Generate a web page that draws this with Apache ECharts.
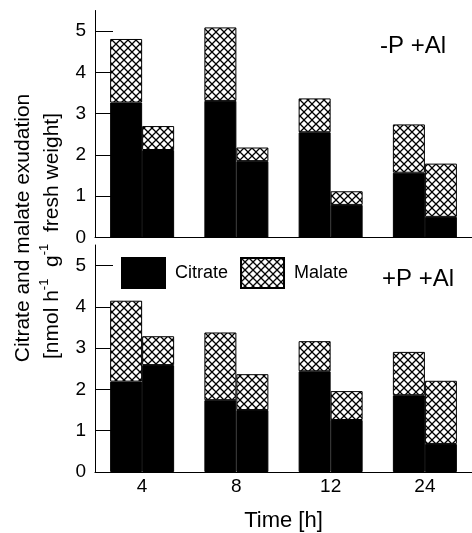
<!DOCTYPE html>
<html>
<head>
<meta charset="utf-8">
<script src="https://cdn.jsdelivr.net/npm/echarts@6/dist/echarts.min.js"></script>
<style>
html,body{margin:0;padding:0;background:#fff;}
#chart{width:472px;height:533px;}
</style>
</head>
<body>
<div id="chart"></div>
<script>
// ---- data ----
var categories = ['4', '8', '12', '24'];
var yTicks = [0, 1, 2, 3, 4, 5];
// top panel (-P +Al)
var topCitrate1 = [3.27, 3.31, 2.55, 1.57];
var topMalate1  = [1.54, 1.78, 0.82, 1.17];
var topCitrate2 = [2.12, 1.85, 0.79, 0.50];
var topMalate2  = [0.58, 0.33, 0.33, 1.29];
// bottom panel (+P +Al)
var botCitrate1 = [2.19, 1.74, 2.44, 1.86];
var botMalate1  = [1.96, 1.64, 0.73, 1.05];
var botCitrate2 = [2.59, 1.50, 1.26, 0.68];
var botMalate2  = [0.70, 0.87, 0.70, 1.53];

// crosshatch pattern
function makePattern() {
  var c = document.createElement('canvas');
  var s = 8;
  c.width = s; c.height = s;
  var ctx = c.getContext('2d');
  ctx.fillStyle = '#fff';
  ctx.fillRect(0, 0, s, s);
  ctx.strokeStyle = '#000';
  ctx.lineWidth = 1.3;
  ctx.beginPath();
  ctx.moveTo(-1, -1); ctx.lineTo(s + 1, s + 1);
  ctx.moveTo(s + 1, -1); ctx.lineTo(-1, s + 1);
  ctx.stroke();
  return c;
}
var hatch = { image: makePattern(), repeat: 'repeat' };

var FONT = 'Liberation Sans, Arial, sans-serif';
var chart = echarts.init(document.getElementById('chart'));

function yAxisCfg(gi) {
  return {
    gridIndex: gi, type: 'value', min: 0, max: 5.5, interval: 1,
    axisLine: { show: true, lineStyle: { color: '#000', width: 1 } },
    axisTick: { show: true, inside: true, length: 18, customValues: yTicks, lineStyle: { color: '#000' } },
    axisLabel: { customValues: yTicks, color: '#000', fontSize: 19, fontFamily: FONT, margin: 9 },
    splitLine: { show: false }
  };
}

function citrate(xi, stack, data) {
  return { name: 'Citrate', type: 'bar', xAxisIndex: xi, yAxisIndex: xi, stack: stack,
    barWidth: 32, barGap: '0%', data: data,
    itemStyle: { color: '#000', borderColor: '#000', borderWidth: 1 } };
}
function malate(xi, stack, data) {
  return { name: 'Malate', type: 'bar', xAxisIndex: xi, yAxisIndex: xi, stack: stack,
    barWidth: 32, barGap: '0%', data: data,
    itemStyle: { color: hatch, borderColor: '#000', borderWidth: 1 } };
}

var option = {
  animation: false,
  backgroundColor: '#fff',
  textStyle: { fontFamily: FONT },
  grid: [
    { left: 95, right: 0, top: 10.5, height: 227 },
    { left: 95, right: 0, top: 245, height: 227.5 }
  ],
  xAxis: [
    { gridIndex: 0, type: 'category', data: categories,
      axisLine: { lineStyle: { color: '#000', width: 1 } },
      axisTick: { show: false }, axisLabel: { show: false } },
    { gridIndex: 1, type: 'category', data: categories,
      axisLine: { lineStyle: { color: '#000', width: 1 } },
      axisTick: { show: false },
      axisLabel: { color: '#000', fontSize: 19, fontFamily: FONT, margin: 5 },
      name: 'Time [h]', nameLocation: 'middle', nameGap: 38,
      nameTextStyle: { color: '#000', fontSize: 22, fontFamily: FONT } }
  ],
  yAxis: [yAxisCfg(0), yAxisCfg(1)],
  legend: {
    data: ['Citrate', 'Malate'],
    left: 121, top: 257, padding: 0, itemWidth: 43, itemHeight: 30, itemGap: 12,
    icon: 'rect',
    textStyle: { color: '#000', fontSize: 18, fontFamily: FONT, padding: [0, 0, 0, 5] },
    selectedMode: false
  },
  graphic: [
    { type: 'text', left: 380, top: 34, style: { text: '-P +Al', fontSize: 24, fontFamily: FONT, fill: '#000' } },
    { type: 'text', left: 382, top: 267, style: { text: '+P +Al', fontSize: 24, fontFamily: FONT, fill: '#000' } },
    { type: 'text', x: 23, y: 228, rotation: Math.PI / 2,
      style: { text: 'Citrate and malate exudation', fontSize: 21, fontFamily: FONT, fill: '#000',
        align: 'center', verticalAlign: 'middle' } },
    { type: 'text', x: 50, y: 236, rotation: Math.PI / 2,
      style: { text: '{n|[nmol h}{s|-1}{n|  g}{s|-1}{n|  fresh weight]}', fontFamily: FONT, fill: '#000',
        align: 'center', verticalAlign: 'middle',
        rich: {
          n: { fontSize: 21, fontFamily: FONT, fill: '#000', lineHeight: 25, verticalAlign: 'bottom' },
          s: { fontSize: 13, fontFamily: FONT, fill: '#000', lineHeight: 25, verticalAlign: 'top' }
        } } }
  ],
  series: [
    citrate(0, 't1', topCitrate1), malate(0, 't1', topMalate1),
    citrate(0, 't2', topCitrate2), malate(0, 't2', topMalate2),
    citrate(1, 'b1', botCitrate1), malate(1, 'b1', botMalate1),
    citrate(1, 'b2', botCitrate2), malate(1, 'b2', botMalate2)
  ]
};
chart.setOption(option);
</script>
</body>
</html>
